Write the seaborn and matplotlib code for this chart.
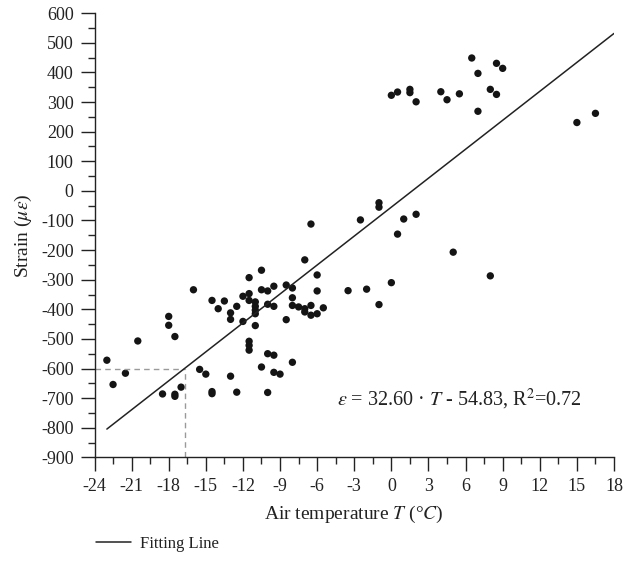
import numpy as np
import pandas as pd
import seaborn as sns
from matplotlib import pyplot as plt
from matplotlib.ticker import MultipleLocator

# data
temp = [-23.0, -22.5, -21.5, -20.5, -18.5, -18.0, -18.0, -17.5, -17.5, -17.5,
        -17.0, -16.0, -15.5, -15.0, -14.5, -14.5, -14.5, -14.0, -13.5, -13.0,
        -13.0, -13.0, -12.5, -12.5, -12.0, -12.0, -11.5, -11.5, -11.5, -11.5,
        -11.5, -11.5, -11.0, -11.0, -11.0, -11.0, -11.0, -10.5, -10.5, -10.5,
        -10.0, -10.0, -10.0, -10.0, -9.5, -9.5, -9.5, -9.5, -9.0, -8.5,
        -8.5, -8.0, -8.0, -8.0, -8.0, -7.5, -7.0, -7.0, -7.0, -6.5,
        -6.5, -6.5, -6.0, -6.0, -6.0, -5.5, -3.5, -2.5, -2.0, -1.0,
        -1.0, -1.0, 0.0, 0.5, 1.0, 2.0, 5.0, 8.0,
        0.0, 0.5, 1.5, 1.5, 2.0, 4.0, 4.5, 5.5, 6.5, 7.0,
        7.0, 8.0, 8.5, 8.5, 9.0, 15.0, 16.5]
strain = [-572, -654, -616, -507, -686, -424, -454, -492, -687, -694,
          -663, -334, -603, -619, -370, -678, -685, -398, -372, -412,
          -434, -626, -390, -680, -356, -441, -293, -347, -370, -508,
          -522, -538, -375, -390, -403, -415, -455, -268, -334, -595,
          -338, -383, -550, -681, -322, -390, -555, -613, -619, -318,
          -435, -328, -361, -387, -579, -392, -233, -398, -409, -387,
          -420, -112, -284, -338, -415, -395, -337, -98, -332, -384,
          -40, -55, -310, -146, -95, -79, -207, -287,
          323, 334, 343, 332, 301, 335, 308, 328, 449, 397,
          269, 343, 431, 326, 414, 231, 262]

slope = 32.60
intercept = -54.83
fit_x = [-23, 18]
ref_strain = -600

df = pd.DataFrame({"T": temp, "strain": strain})
fit = pd.DataFrame({"T": fit_x, "strain": [slope * t + intercept for t in fit_x]})
ref_T = (ref_strain - intercept) / slope

sns.set_style("ticks")
plt.rcParams["font.family"] = ["Liberation Serif", "DejaVu Serif"]
plt.rcParams["mathtext.fontset"] = "stix"
plt.rcParams["axes.unicode_minus"] = False

fig = plt.figure(figsize=(6.23, 5.72), dpi=100)
ax = fig.add_axes([94.5 / 623, 1 - 457.3 / 572, (614 - 94.5) / 623, (457.3 - 13.3) / 572])

# guide lines for T at -600
ax.plot([-24, ref_T], [ref_strain, ref_strain], ls=(0, (4, 3)), color="#9a9a9a", lw=1.0)
ax.plot([ref_T, ref_T], [-900, ref_strain], ls=(0, (4, 3)), color="#9a9a9a", lw=1.0)

sns.lineplot(data=fit, x="T", y="strain", color="#222222", lw=1.1, ax=ax, legend=False)
fit_line = ax.lines[-1]
sns.scatterplot(data=df, x="T", y="strain", s=28, color="#141414", edgecolor="none",
                ax=ax, legend=False)
if ax.get_legend() is not None:
    ax.get_legend().remove()

ax.set_xlim(-24, 18)
ax.set_ylim(-900, 600)
ax.xaxis.set_major_locator(MultipleLocator(3))
ax.xaxis.set_minor_locator(MultipleLocator(1.5))
ax.yaxis.set_major_locator(MultipleLocator(100))
ax.yaxis.set_minor_locator(MultipleLocator(50))
ax.tick_params(which="major", direction="out", length=10, width=1.0, labelsize=13,
               colors="#222222", pad=5)
ax.tick_params(which="minor", direction="out", length=5, width=1.0)
sns.despine(ax=ax)
for s in ["left", "bottom"]:
    ax.spines[s].set_linewidth(1.0)
    ax.spines[s].set_color("#222222")

ax.set_xlabel(r"Air temperature $T$ (°$C$)", fontsize=14, color="#222222", labelpad=6)
ax.set_ylabel(r"Strain ($\mu\varepsilon$)", fontsize=14, color="#222222", labelpad=5)

ax.text(-4.4, -706, r"$\varepsilon$ = 32.60 · $T$ - 54.83, R$^2$=0.72",
        fontsize=14.5, color="#222222", va="center", ha="left")

fig.legend(handles=[fit_line], labels=["Fitting Line"], loc="center left",
           bbox_to_anchor=(96 / 623, 1 - 544 / 572), frameon=False,
           borderpad=0, borderaxespad=0, handlelength=2.1, handletextpad=0.55,
           fontsize=12, labelcolor="#222222")

fig.savefig("out.png", dpi=100)
